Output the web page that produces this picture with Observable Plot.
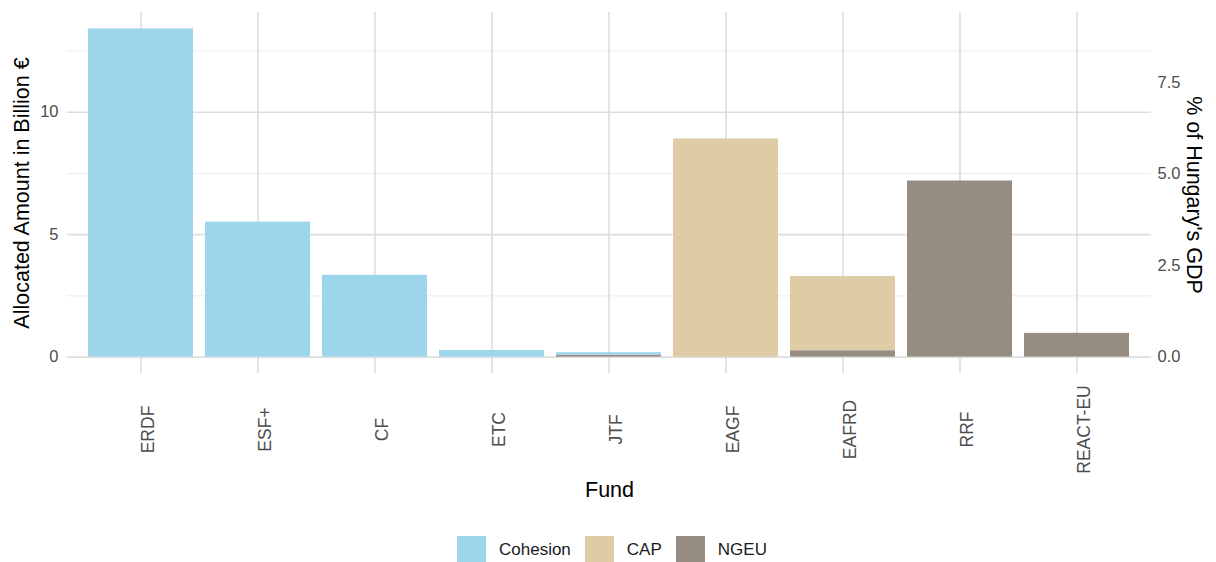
<!DOCTYPE html>
<html>
<head>
<meta charset="utf-8">
<script src="https://cdn.jsdelivr.net/npm/d3@7"></script>
<script src="https://cdn.jsdelivr.net/npm/@observablehq/plot@0.6"></script>
<style>
  html, body { margin: 0; padding: 0; background: #fff; }
  body { width: 1216px; height: 562px; overflow: hidden; font-family: "Liberation Sans", Arial, sans-serif; }
  #legend { display: flex; align-items: center; height: 28px; margin-top: 4px; padding-left: 457px; font-size: 17px; color: #1a1a1a; }
  .sw { width: 29px; height: 28px; margin-right: 13px; }
  .lab { margin-right: 14px; }
</style>
</head>
<body>
<div id="chart"></div>
<div id="legend"></div>
<script>
const funds = ["ERDF", "ESF+", "CF", "ETC", "JTF", "EAGF", "EAFRD", "RRF", "REACT-EU"];
const groups = ["Cohesion", "CAP", "NGEU"];
const colors = ["#9DD6EA", "#DECCA6", "#978C81"];
const stackOrder = ["NGEU", "CAP", "Cohesion"];

const cohesionValues = [13.4, 5.51, 3.34, 0.27, 0.10, 0, 0, 0, 0];
const capValues      = [0, 0, 0, 0, 0, 8.91, 3.03, 0, 0];
const ngeuValues     = [0, 0, 0, 0, 0.08, 0, 0.26, 7.19, 0.97];

const yTicks = [0, 5, 10];
const yMinorTicks = [2.5, 7.5, 12.5];
const gdpTicks = [0, 2.5, 5.0, 7.5];
const hungaryGDP = 149.4; // billion €, secondary axis conversion

const yLabel = "Allocated Amount in Billion €";
const y2Label = "% of Hungary's GDP";
const xLabel = "Fund";

const seriesValues = {Cohesion: cohesionValues, CAP: capValues, NGEU: ngeuValues};
const data = [];
for (const g of stackOrder) {
  funds.forEach((f, i) => {
    if (seriesValues[g][i] > 0) data.push({fund: f, group: g, value: seriesValues[g][i]});
  });
}
const totals = funds.map((f, i) => cohesionValues[i] + capValues[i] + ngeuValues[i]);
const maxTotal = d3.max(totals);

const tickColor = "#4D4D4D";
const font = "Liberation Sans, Arial, sans-serif";

const chart = Plot.plot({
  width: 1216,
  height: 532,
  marginLeft: 67,
  marginRight: 65,
  marginTop: 12,
  marginBottom: 159,
  style: {fontFamily: font, fontSize: "16px", color: tickColor, background: "#fff"},
  x: {domain: funds, paddingInner: 0.1, paddingOuter: 0.15, axis: null},
  y: {domain: [-maxTotal * 0.05, maxTotal * 1.05], axis: null},
  color: {domain: groups, range: colors},
  marks: [
    Plot.gridY(yMinorTicks, {stroke: "#EBEBEB", strokeOpacity: 1, strokeWidth: 1}),
    Plot.gridY(yTicks, {stroke: "#DDDDDD", strokeOpacity: 1, strokeWidth: 1.6}),
    Plot.gridX(funds, {stroke: "#DDDDDD", strokeOpacity: 1, strokeWidth: 1.6}),
    Plot.barY(data, {x: "fund", y: "value", fill: "group", order: stackOrder}),
    Plot.axisY(yTicks, {anchor: "left", tickSize: 0, tickPadding: 9, label: null, fontSize: 16.5, fill: tickColor}),
    Plot.axisY(gdpTicks.map(p => p * hungaryGDP / 100), {
      anchor: "right", tickSize: 0, tickPadding: 6, label: null, fontSize: 16.5, fill: tickColor,
      tickFormat: d => (d * 100 / hungaryGDP).toFixed(1)
    }),
    Plot.text(funds, {x: d => d, frameAnchor: "bottom", text: d => d, rotate: -90, dx: 7, dy: 56, fontSize: 17.5, fill: tickColor, textAnchor: "middle", lineAnchor: "middle"}),
    Plot.text([yLabel], {frameAnchor: "left", text: d => d, rotate: -90, dx: -45, fontSize: 21.5, fill: "#000", textAnchor: "middle", lineAnchor: "middle"}),
    Plot.text([y2Label], {frameAnchor: "right", text: d => d, rotate: 90, dx: 42, dy: 2, fontSize: 21.5, fill: "#000", textAnchor: "middle", lineAnchor: "middle"}),
    Plot.text([xLabel], {frameAnchor: "bottom", text: d => d, dy: 117, fontSize: 21.5, fill: "#000", textAnchor: "middle", lineAnchor: "middle"})
  ]
});
document.getElementById("chart").appendChild(chart);

const legend = document.getElementById("legend");
groups.forEach((g, i) => {
  const sw = document.createElement("div");
  sw.className = "sw";
  sw.style.background = colors[i];
  const lab = document.createElement("span");
  lab.className = "lab";
  lab.textContent = g;
  legend.appendChild(sw);
  legend.appendChild(lab);
});
</script>
</body>
</html>
